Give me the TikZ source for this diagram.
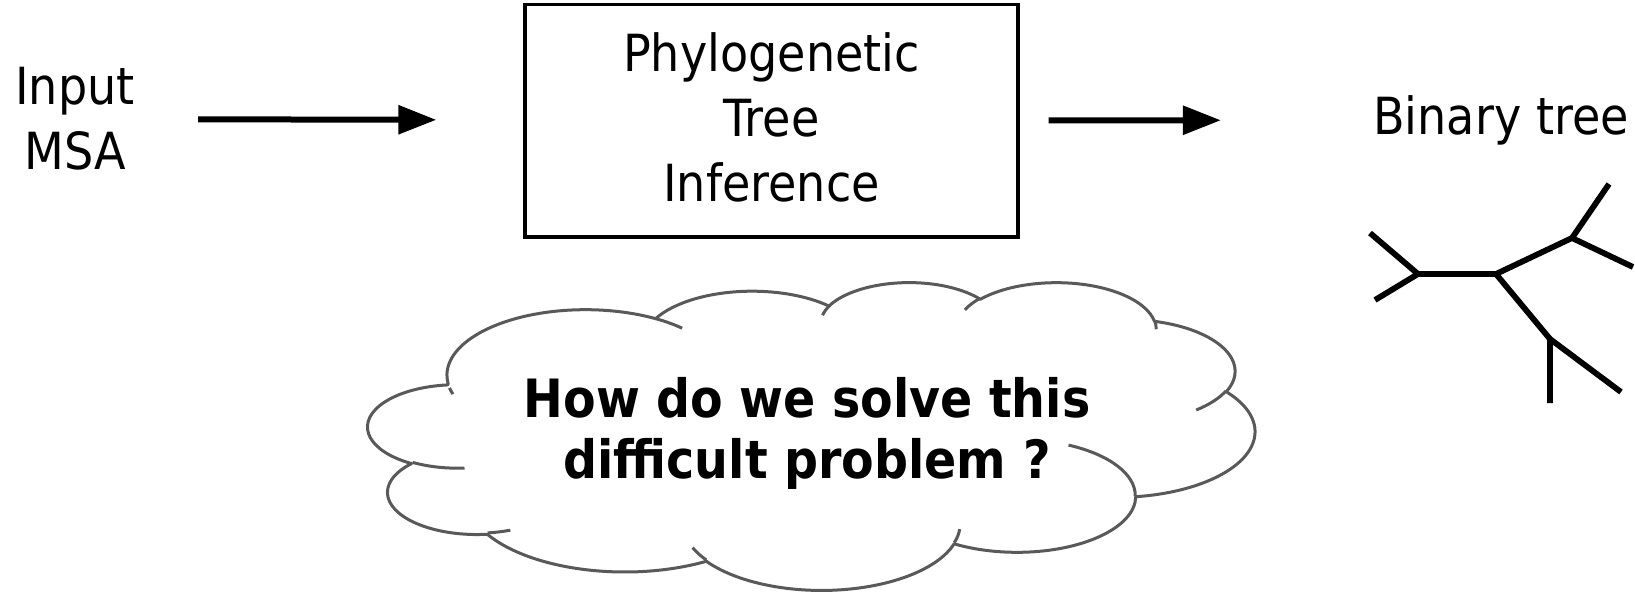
\documentclass[tikz,border=0pt]{standalone}
\usepackage{fontspec}
\setmainfont{DejaVu Sans}[FakeStretch=0.9]
\usetikzlibrary{arrows.meta}
\definecolor{cloudgray}{RGB}{89,89,89}
\newcommand\carc[4]{arc[x radius=#1, y radius=#2, start angle={atan2(#1*sin(#3),#2*cos(#3))}, delta angle={mod(atan2(#1*sin(#3+#4),#2*cos(#3+#4))-atan2(#1*sin(#3),#2*cos(#3))+720,360)}]}
\begin{document}
\begin{tikzpicture}[x=0.5pt,y=-0.5pt,
  lbl/.style={font=\fontsize{25.6}{32.5}\selectfont, align=center, inner sep=0pt},
  conn/.style={line width=3pt, -{Triangle[length=19pt,width=14pt]}},
  branch/.style={line width=2.9pt},
  cloudline/.style={draw=cloudgray, line width=1.5pt, line join=round}]
\useasboundingbox (0,0) rectangle (1635,595);
% nodes
\node[lbl] (in) at (75,119) {Input\\MSA};
\node[lbl, draw, line width=1.7pt, minimum width=246.5pt, minimum height=116.4pt, text depth=4pt] (box) at (771.5,120.6) {Phylogenetic\\Tree\\Inference};
\node[lbl] (out) at (1501,120) {Binary tree};
% arrows
\draw[conn, shorten <=31.5pt, shorten >=43.5pt] (in) -- (box);
\draw[conn, shorten <=14.5pt, shorten >=76pt] (box) -- (out);
% tree
\coordinate (n1) at (1418,274);
\coordinate (l1) at (1370,233);
\coordinate (l2) at (1375,300);
\coordinate (n2) at (1496,274);
\coordinate (n3) at (1572,238);
\coordinate (l3) at (1609,184);
\coordinate (l4) at (1633,267);
\coordinate (n4) at (1550,339);
\coordinate (l5) at (1550,403);
\coordinate (l6) at (1621,392);
\draw[branch] (l1) -- (n1) -- (l2);
\draw[branch] (n1) -- (n2);
\draw[branch] (n2) -- (n3);
\draw[branch] (l3) -- (n3) -- (l4);
\draw[branch] (n2) -- (n4);
\draw[branch] (l5) -- (n4) -- (l6);
% cloud
\begin{scope}[shift={(368.2,281.6)}, x=0.102604pt, y=-0.035613pt]
\path[cloudline, fill=white] (390,1437)
  \carc{675.3}{919.0}{-190.4875}{123.7805}
  \carc{533.3}{726.7}{-144.1024}{89.9452}
  \carc{436.5}{594.5}{-145.8079}{99.7230}
  \carc{485.7}{659.5}{-130.9861}{117.2417}
  \carc{533.3}{727.3}{-78.7089}{109.0269}
  \carc{677.5}{922.0}{-46.2673}{130.2690}
  \carc{578.5}{786.7}{0.6250}{114.0333}
  \carc{675.2}{921.5}{22.4516}{115.1726}
  \carc{772.0}{1054.3}{66.2426}{75.7110}
  \carc{436.0}{591.8}{-274.9421}{146.7356}
  \carc{434.5}{594.5}{-246.8285}{152.5189}
  -- cycle;
\path[cloudline]
  (469.3,2617.7) \carc{434.5}{594.5}{86.7420}{26.4295}
  (692.8,3489.9) \carc{436.0}{591.8}{73.6105}{11.4475}
  (1647.8,3909.0) \carc{675.2}{921.5}{137.6242}{14.0811}
  (2882.7,3475.1) \carc{675.2}{921.5}{6.4533}{15.9984}
  (3412.9,2295.4) \carc{578.5}{786.7}{-70.2924}{70.9174}
  (4179.8,1535.4) \carc{533.3}{727.3}{30.3180}{27.7515}
  (3832.4,542.6) \carc{485.7}{659.5}{-13.7443}{14.8589}
  (2907.8,395.2) \carc{485.7}{659.5}{-149.1815}{18.1954}
  (2214.1,472.0) \carc{436.5}{594.5}{-163.4943}{17.6864}
  (1400.0,519.2) \carc{675.3}{919.0}{-66.7070}{12.3194}
  (412.7,1578.9) \carc{675.3}{919.0}{156.6278}{7.1638};
\end{scope}
\node[font=\fontsize{26.4}{30.5}\selectfont\bfseries, align=center, inner sep=0pt] (q) at (807,433) {How do we solve this\\difficult problem ?};
\end{tikzpicture}
\end{document}
